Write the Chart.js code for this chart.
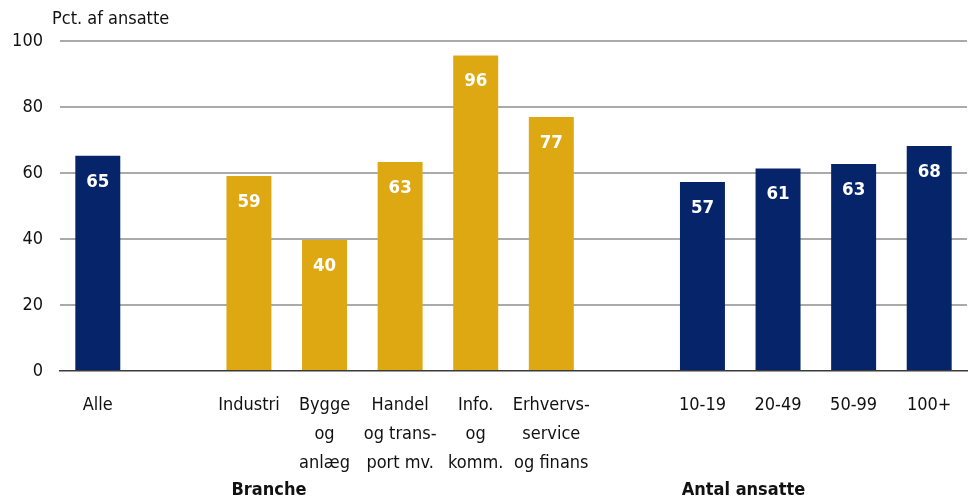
<!DOCTYPE html>
<html>
<head>
<meta charset="utf-8">
<script src="https://cdn.jsdelivr.net/npm/chart.js@4.4.0/dist/chart.umd.min.js"></script>
<style>
  html, body { margin: 0; padding: 0; background: #ffffff; }
  #wrap { width: 972px; height: 500px; }
</style>
</head>
<body>
<div id="wrap"><canvas id="c" width="972" height="500"></canvas></div>
<script>
const categories = [
  ["Alle"], [""], ["Industri"], ["Bygge", "og", "anlæg"], ["Handel", "og trans-", "port mv."],
  ["Info.", "og", "komm."], ["Erhvervs-", "service", "og finans"], [""],
  ["10-19"], ["20-49"], ["50-99"], ["100+"]
];
const values = [65.2, null, 59.1, 39.7, 63.3, 95.6, 77.0, null, 57.3, 61.4, 62.7, 68.2];
const valueLabels = ["65", "", "59", "40", "63", "96", "77", "", "57", "61", "63", "68"];
const groups = ["navy", "", "gold", "gold", "gold", "gold", "gold", "", "navy", "navy", "navy", "navy"];
const yTicks = [0, 20, 40, 60, 80, 100];
const yTitle = "Pct. af ansatte";
const groupLabels = [
  { text: "Branche", at: 2, shift: 20 },
  { text: "Antal ansatte", at: 8, shift: 41 }
];

const COLORS = { navy: "#06246a", gold: "#dea813" };

// pick the narrowest available font and a size giving the reference text width
const mctx = document.createElement("canvas").getContext("2d");
function w(font) { mctx.font = font; return mctx.measureText("Industri og finans").width; }
let FAM = "Roboto, sans-serif";
for (const cand of ["Liberation Sans Narrow", "DejaVu Sans Condensed", "Roboto"]) {
  if (Math.abs(w("40px '" + cand + "', monospace") - w("40px monospace")) > 0.5) {
    FAM = "'" + cand + "', sans-serif";
    break;
  }
}
mctx.font = "40px " + FAM;
const ratio = mctx.measureText("Industri").width / 40;
const SIZE = Math.min(21, Math.round((61 / ratio) * 2) / 2);

const labelPlugin = {
  id: "labelPlugin",
  afterDatasetsDraw(chart) {
    const ctx = chart.ctx;
    const meta = chart.getDatasetMeta(0);
    ctx.save();
    ctx.fillStyle = "#ffffff";
    ctx.font = "bold " + (SIZE + 0.5) + "px " + FAM;
    ctx.textAlign = "center";
    ctx.textBaseline = "middle";
    meta.data.forEach((bar, i) => {
      if (values[i] == null) return;
      ctx.fillText(valueLabels[i], bar.x, bar.y + 26);
    });
    ctx.restore();
  },
  afterDraw(chart) {
    const ctx = chart.ctx;
    const x = chart.scales.x;
    ctx.save();
    ctx.fillStyle = "#111111";
    ctx.font = SIZE + "px " + FAM;
    ctx.textAlign = "left";
    ctx.textBaseline = "middle";
    ctx.fillText(yTitle, chart.chartArea.left - 8, 19);
    ctx.font = "bold " + SIZE + "px " + FAM;
    ctx.textAlign = "center";
    groupLabels.forEach(g => {
      ctx.fillText(g.text, x.getPixelForValue(g.at) + g.shift, 490);
    });
    ctx.restore();
  }
};

new Chart(document.getElementById("c"), {
  type: "bar",
  data: {
    labels: categories,
    datasets: [{
      data: values,
      backgroundColor: groups.map(g => COLORS[g] || "transparent"),
      borderWidth: 0,
      categoryPercentage: 1,
      barPercentage: 0.595
    }]
  },
  options: {
    responsive: false,
    animation: false,
    devicePixelRatio: 1,
    layout: { padding: { top: 41, right: 5, bottom: 0, left: 0 } },
    plugins: { legend: { display: false }, tooltip: { enabled: false }, title: { display: false } },
    scales: {
      x: {
        grid: { display: false, drawTicks: false },
        border: { display: true, color: "#3a3a3a", width: 1.5 },
        ticks: {
          color: "#111111",
          font: { family: FAM, size: SIZE, lineHeight: 29 / SIZE },
          padding: 20,
          maxRotation: 0,
          autoSkip: false
        },
        afterFit(scale) { scale.height = 129; }
      },
      y: {
        min: 0,
        max: 100,
        afterBuildTicks(scale) { scale.ticks = yTicks.map(v => ({ value: v })); },
        grid: {
          drawTicks: false,
          color: ctx => (ctx.tick && ctx.tick.value === 0) ? "rgba(0,0,0,0)" : "#aaaaaa",
          lineWidth: 2
        },
        border: { display: false },
        ticks: {
          color: "#111111",
          font: { family: FAM, size: SIZE },
          padding: 17
        },
        afterFit(scale) { scale.width = 60; }
      }
    }
  },
  plugins: [labelPlugin]
});
</script>
</body>
</html>
